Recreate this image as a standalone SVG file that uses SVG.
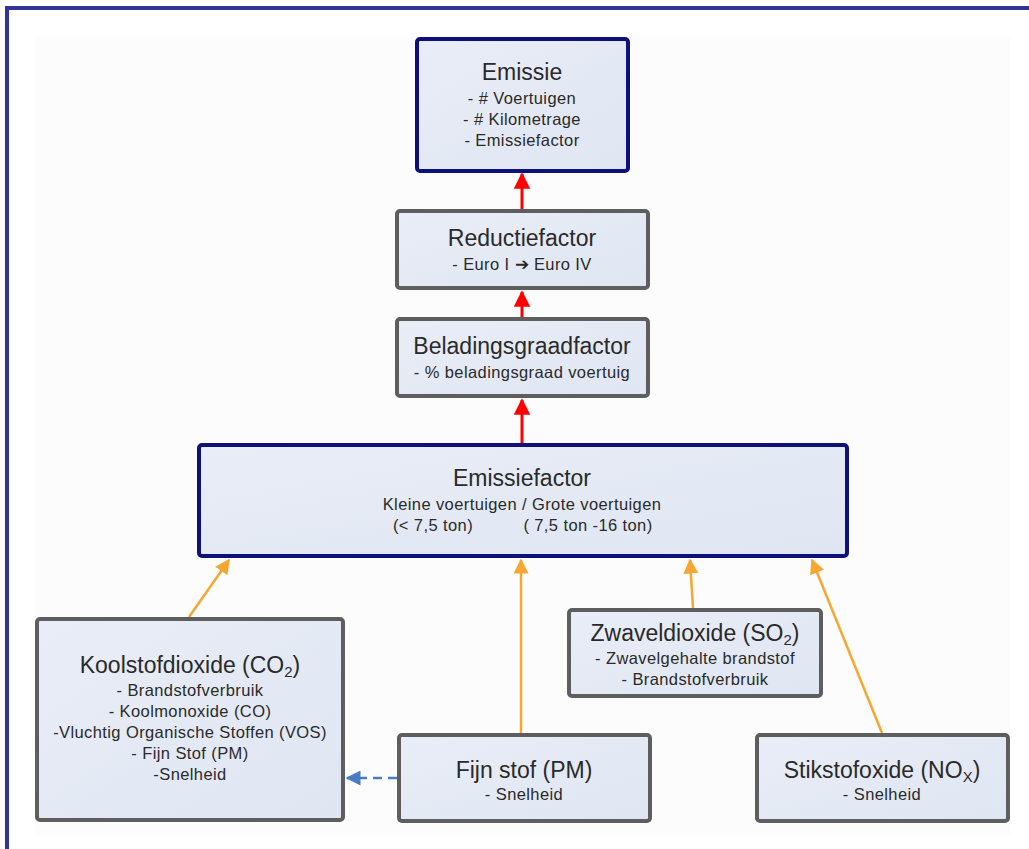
<svg xmlns="http://www.w3.org/2000/svg" width="1029" height="849" viewBox="0 0 1029 849">
  <defs>
    <linearGradient id="boxFill" x1="0" y1="0" x2="1" y2="1">
      <stop offset="0" stop-color="#e9edf7"/>
      <stop offset="1" stop-color="#dfe6f2"/>
    </linearGradient>
    <marker id="redHead" viewBox="0 0 10 10" refX="9" refY="5" markerWidth="5.5" markerHeight="5.5" orient="auto" markerUnits="strokeWidth">
      <path d="M0,0 L10,5 L0,10 Z" fill="#ff0000"/>
    </marker>
    <marker id="orangeHead" viewBox="0 0 10 10" refX="9" refY="5" markerWidth="6" markerHeight="6" orient="auto" markerUnits="strokeWidth">
      <path d="M0,0 L10,5 L0,10 Z" fill="#f7a631"/>
    </marker>
    <marker id="blueHead" viewBox="0 0 10 10" refX="9" refY="5" markerWidth="6" markerHeight="6" orient="auto" markerUnits="strokeWidth">
      <path d="M0,0 L10,5 L0,10 Z" fill="#4a7cc4"/>
    </marker>
  </defs>
  <style>
    .box { fill: url(#boxFill); stroke-width: 4; }
    .main { stroke: #10107a; }
    .sub { stroke: #5e5e5e; }
    text { font-family: "Liberation Sans", Arial, sans-serif; fill: #2a2a2a; text-anchor: middle; }
    .t { font-size: 23px; }
    .s { font-size: 16.5px; letter-spacing: 0.4px; }
    .red { stroke: #ff0000; stroke-width: 3; fill: none; marker-end: url(#redHead); }
    .orange { stroke: #f7a631; stroke-width: 2.5; fill: none; marker-end: url(#orangeHead); }
    .blue { stroke: #4a7cc4; stroke-width: 2.5; fill: none; stroke-dasharray: 9 6; marker-end: url(#blueHead); }
  </style>

  <!-- page frame -->
  <rect x="0" y="0" width="1029" height="849" fill="#ffffff"/>
  <rect x="35" y="36" width="975" height="800" fill="#fcfcfc"/>
  <path d="M7,849 L7,8 L1029,8" fill="none" stroke="#333399" stroke-width="4"/>

  <!-- connectors -->
  <g id="connectors">
    <line class="red" x1="522" y1="209" x2="522" y2="174"/>
    <line class="red" x1="522" y1="317" x2="522" y2="292"/>
    <line class="red" x1="522" y1="443" x2="522" y2="400"/>
    <line class="orange" x1="189" y1="617" x2="229" y2="560"/>
    <line class="orange" x1="521" y1="733" x2="521" y2="560"/>
    <line class="orange" x1="693" y1="608" x2="690" y2="560"/>
    <line class="orange" x1="882" y1="733" x2="812" y2="560"/>
    <line class="blue" x1="397" y1="778" x2="347" y2="778"/>
  </g>

  <g id="emissie">
    <rect class="box main" x="417" y="39" width="211" height="132" rx="3"/>
    <text class="t" x="522" y="80">Emissie</text>
    <text class="s" x="522" y="104">- # Voertuigen</text>
    <text class="s" x="522" y="125">- # Kilometrage</text>
    <text class="s" x="522" y="146">- Emissiefactor</text>
  </g>

  <g id="reductiefactor">
    <rect class="box sub" x="397" y="211" width="251" height="77" rx="3"/>
    <text class="t" x="522" y="246">Reductiefactor</text>
    <text class="s" x="522" y="270">- Euro I ➔ Euro IV</text>
  </g>

  <g id="beladingsgraadfactor">
    <rect class="box sub" x="397" y="319" width="251" height="77" rx="3"/>
    <text class="t" x="522" y="354">Beladingsgraadfactor</text>
    <text class="s" x="522" y="378">- % beladingsgraad voertuig</text>
  </g>

  <g id="emissiefactor">
    <rect class="box main" x="199" y="445" width="648" height="111" rx="3"/>
    <text class="t" x="522" y="486">Emissiefactor</text>
    <text class="s" x="522" y="510">Kleine voertuigen / Grote voertuigen</text>
    <text class="s" x="433" y="531">(&lt; 7,5 ton)</text>
    <text class="s" x="588" y="531">( 7,5 ton -16 ton)</text>
  </g>

  <g id="koolstofdioxide">
    <rect class="box sub" x="37" y="619" width="306" height="201" rx="3"/>
    <text class="t" x="190" y="673">Koolstofdioxide (CO<tspan font-size="15" dy="4">2</tspan><tspan dy="-4">)</tspan></text>
    <text class="s" x="190" y="696">- Brandstofverbruik</text>
    <text class="s" x="190" y="717">- Koolmonoxide (CO)</text>
    <text class="s" x="190" y="738">-Vluchtig Organische Stoffen (VOS)</text>
    <text class="s" x="190" y="759">- Fijn Stof (PM)</text>
    <text class="s" x="190" y="780">-Snelheid</text>
  </g>

  <g id="zwaveldioxide">
    <rect class="box sub" x="569" y="610" width="252" height="86" rx="3"/>
    <text class="t" x="695" y="641">Zwaveldioxide (SO<tspan font-size="15" dy="4">2</tspan><tspan dy="-4">)</tspan></text>
    <text class="s" x="695" y="664">- Zwavelgehalte brandstof</text>
    <text class="s" x="695" y="685">- Brandstofverbruik</text>
  </g>

  <g id="fijnstof">
    <rect class="box sub" x="399" y="735" width="251" height="86" rx="3"/>
    <text class="t" x="524" y="778">Fijn stof (PM)</text>
    <text class="s" x="524" y="800">- Snelheid</text>
  </g>

  <g id="stikstofoxide">
    <rect class="box sub" x="757" y="735" width="251" height="86" rx="3"/>
    <text class="t" x="882" y="778">Stikstofoxide (NO<tspan font-size="15" dy="4">X</tspan><tspan dy="-4">)</tspan></text>
    <text class="s" x="882" y="800">- Snelheid</text>
  </g>
</svg>
